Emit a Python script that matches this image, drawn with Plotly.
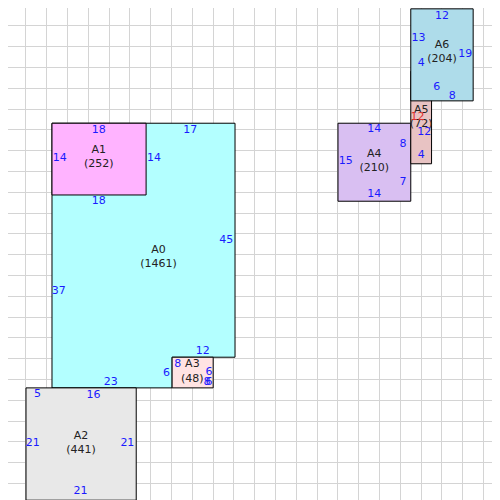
import plotly.graph_objects as go

# room outlines in plan units (y grows downward)
names = ["A0", "A1", "A2", "A3", "A4", "A5", "A6"]
areas = [1461, 252, 441, 48, 210, 72, 204]
xs = [
    [9, 44.2, 44.2, 32.1, 32.1, 9],
    [9, 27.1, 27.1, 9],
    [4, 25.2, 25.2, 4],
    [32.1, 40, 40, 32.1],
    [64, 78, 78, 64],
    [78, 82, 82, 78],
    [78, 90, 90, 78],
]
ys = [
    [22.7, 22.7, 67.7, 67.7, 73.6, 73.6],
    [22.7, 22.7, 36.5, 36.5],
    [73.6, 73.6, 95.2, 95.2],
    [67.7, 67.7, 73.6, 73.6],
    [22.7, 22.7, 37.7, 37.7],
    [12.7, 12.7, 30.5, 30.5],
    [0.7, 0.7, 18.4, 18.4],
]
colors = ["#b3ffff", "#ffb3ff", "#e8e8e8", "#ffe3e3", "#d9bff2", "#e8c3c3", "#aedcea"]
name_x = [29.5, 18, 14.6, 36, 71, 80, 84]
name_y = [48.5, 29.3, 84.3, 70.5, 30, 21.5, 9]

# edge length labels
edge_txt = ["17", "45", "12", "6", "23", "37", "18", "14", "14", "18",
            "5", "16", "21", "21", "21", "8", "6", "6", "8",
            "14", "15", "8", "7", "14", "4", "12", "12", "4",
            "12", "13", "19", "6", "8"]
edge_x = [35.6, 42.5, 38, 31, 20.3, 10.3, 18, 10.5, 28.6, 18,
          6.2, 17, 5.3, 23.5, 14.5, 33.2, 39.2, 39.2, 38.8,
          71, 65.5, 76.5, 76.5, 71, 80, 79.3, 80.6, 80,
          84, 79.5, 88.5, 83, 86]
edge_y = [24, 45.2, 66.5, 70.8, 72.5, 55, 24, 29.5, 29.5, 37.7,
          74.8, 75, 84.3, 84.3, 93.5, 69, 70.6, 72.6, 72.6,
          23.8, 30, 26.7, 34, 36.3, 28.8, 21.5, 24.5, 11.2,
          2.1, 6.3, 9.5, 15.8, 17.5]
edge_col = ["#1a1aff"] * len(edge_txt)
edge_col[25] = "#e03030"

fig = go.Figure()
for i in range(len(names)):
    fig.add_trace(go.Scatter(x=xs[i] + [xs[i][0]], y=ys[i] + [ys[i][0]], mode="lines",
                             fill="toself", fillcolor=colors[i],
                             line=dict(color="black", width=1), hoverinfo="skip",
                             showlegend=False))
    fig.add_trace(go.Scatter(x=[name_x[i]], y=[name_y[i]], mode="text",
                             text=[f"{names[i]}<br>({areas[i]})"],
                             textfont=dict(color="#222", size=11, family="DejaVu Sans"),
                             showlegend=False))

fig.add_trace(go.Scatter(x=edge_x, y=edge_y, mode="text", text=edge_txt,
                         textfont=dict(color=edge_col, size=11, family="DejaVu Sans"),
                         showlegend=False))

fig.update_layout(width=500, height=500, autosize=False,
                  margin=dict(l=0, r=0, t=0, b=0),
                  plot_bgcolor="white", paper_bgcolor="white")
fig.update_xaxes(range=[0.54, 96.7], dtick=4, tick0=0, showgrid=True, gridcolor="#d4d4d4",
                 zeroline=False, showticklabels=False)
fig.update_yaxes(range=[96.7, 0.54], dtick=4, tick0=0, showgrid=True, gridcolor="#d4d4d4",
                 zeroline=False, showticklabels=False)

fig.write_html("out.html")
